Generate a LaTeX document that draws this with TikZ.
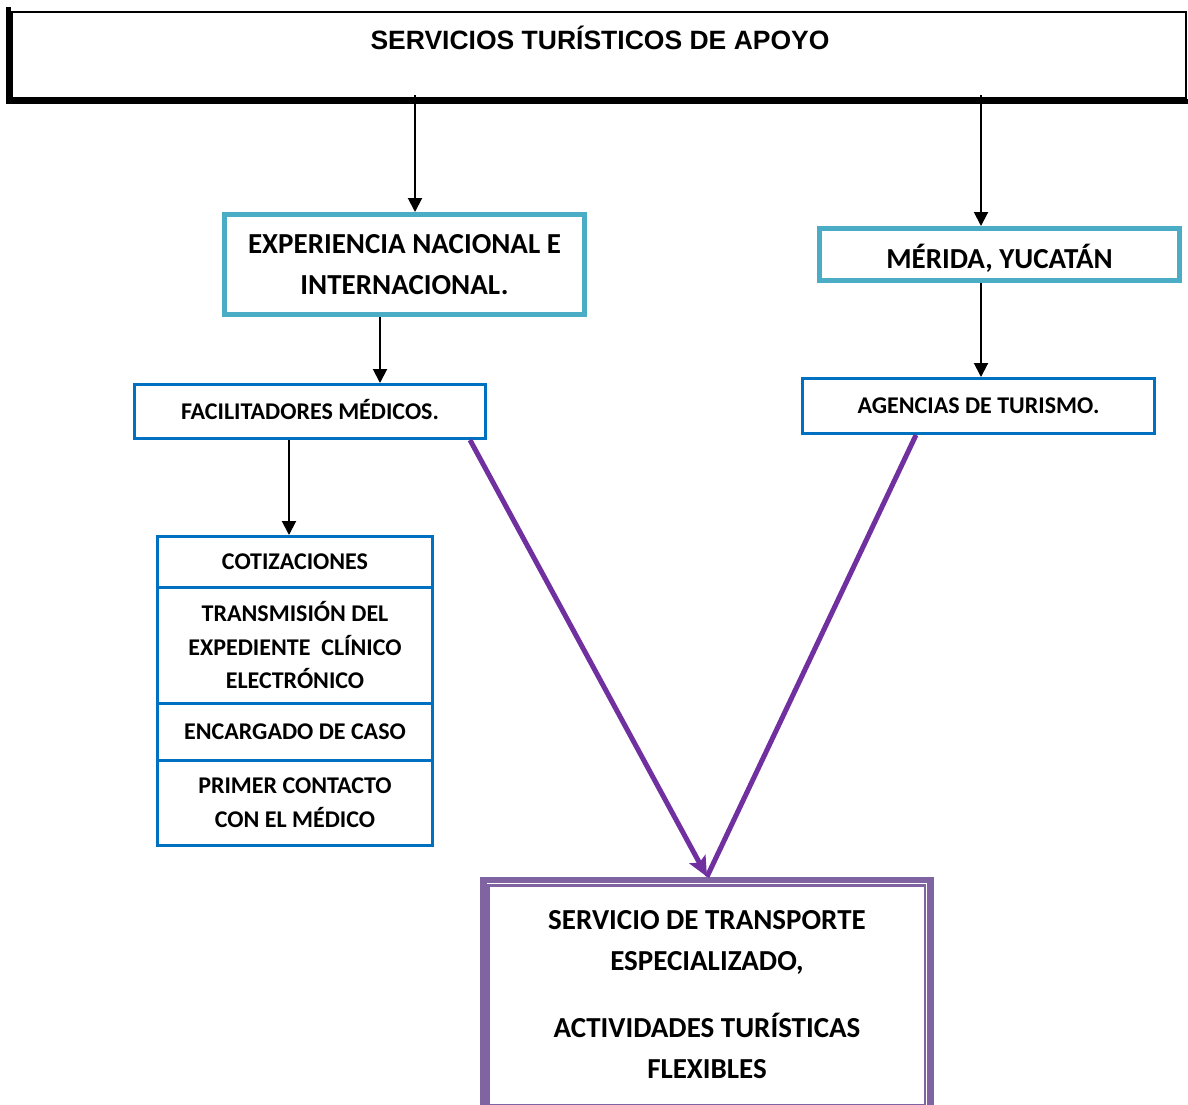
\documentclass[tikz,border=0pt]{standalone}
\usepackage{fontspec}
\setmainfont{Carlito}
\newfontfamily\titlefont{Liberation Sans}
\usetikzlibrary{arrows.meta,calc}

\definecolor{tealline}{HTML}{4BACC6}
\definecolor{blueline}{HTML}{0070C0}
\definecolor{purpleline}{HTML}{7030A0}
\definecolor{purplebox}{HTML}{8064A2}

\begin{document}
\begin{tikzpicture}[x=1pt,y=-1pt,
  bigtext/.style={font=\bfseries\fontsize{29}{41}\selectfont, align=center},
  smalltext/.style={font=\bfseries\fontsize{24}{33.5}\selectfont, align=center},
  oneline/.style={text height=#1, text depth=0pt},
  box/.style={draw, inner sep=0pt, anchor=center},
  tealbox/.style={box, draw=tealline, line width=5pt, bigtext},
  bluebox/.style={box, draw=blueline, line width=3pt, smalltext},
  arr/.style={line width=2pt, -{Triangle[length=14pt,width=14pt]}},
  parr/.style={draw=purpleline, line width=5pt},
  parrtip/.style={parr, -{Stealth[length=20pt,width=18pt,inset=4pt]}},
]
\useasboundingbox (0,0) rectangle (1188,1105);

% header box with its shadow on the left and bottom
\node[box, line width=2.5pt, minimum width=1174pt, minimum height=86pt] (top) at (599,55) {};
\fill ([shift={(-5,-4)}]top.north west) rectangle ([shift={(0,5)}]top.south west);
\fill ([shift={(-5,0)}]top.south west) rectangle ([shift={(4,5)}]top.south east);
\node[font=\titlefont\bfseries\fontsize{26.5}{30}\selectfont, anchor=base] (title) at (600,49.5) {SERVICIOS TURÍSTICOS DE APOYO};

% second level
\node[tealbox, minimum width=360pt, minimum height=100pt] (expbox) at (404.5,264.5)
  {EXPERIENCIA NACIONAL E\\INTERNACIONAL.};
\node[tealbox, oneline=27.5pt, minimum width=360pt, minimum height=52pt] (merbox) at (999.5,254.5)
  {MÉRIDA, YUCATÁN};

% third level
\node[bluebox, oneline=15.5pt, minimum width=351pt, minimum height=54pt] (facbox) at (310,411.5)
  {FACILITADORES MÉDICOS.};
\node[bluebox, oneline=15.5pt, minimum width=352pt, minimum height=55pt] (agebox) at (978.5,406)
  {AGENCIAS DE TURISMO.};

% stacked list of facilitator services
\node[bluebox, oneline=15.5pt, minimum width=275pt, minimum height=50.5pt] (cot) at (295,561.75) {COTIZACIONES};
\node[bluebox, minimum width=275pt, minimum height=116pt] (tra) at (295,645)
  {TRANSMISIÓN DEL\\EXPEDIENTE\ \ CLÍNICO\\ELECTRÓNICO};
\node[bluebox, oneline=15.5pt, minimum width=275pt, minimum height=57pt] (enc) at (295,731.5) {ENCARGADO DE CASO};
\node[bluebox, minimum width=275pt, minimum height=85.5pt] (pri) at (295,802.75)
  {PRIMER CONTACTO\\CON EL MÉDICO};

% final box with double purple border
\node[box, draw=purplebox, line width=6.5pt, minimum width=447pt, minimum height=229pt, bigtext] (finbox) at (707,994.5)
  {SERVICIO DE TRANSPORTE\\ESPECIALIZADO,\\[26pt]ACTIVIDADES TURÍSTICAS\\FLEXIBLES};
\draw[purplebox, line width=2.5pt] ([shift={(8,8.5)}]finbox.north west) rectangle ([shift={(-9,-7.5)}]finbox.south east);

% black connectors
\coordinate (xa) at (415,0);
\coordinate (xb) at (981,0);
\coordinate (xc) at (380,0);
\coordinate (xd) at (289,0);
\draw[arr] ([yshift=4pt]top.south -| xa) -- (expbox.north -| xa);
\draw[arr] ([yshift=4pt]top.south -| xb) -- (merbox.north -| xb);
\draw[arr] (expbox.south -| xc) -- (facbox.north -| xc);
\draw[arr] (merbox.south -| xb) -- (agebox.north -| xb);
\draw[arr] (facbox.south -| xd) -- (cot.north -| xd);

% purple connectors meeting on top of the final box
\coordinate (xe) at (470,0);
\coordinate (xf) at (916,0);
\draw[parr] (agebox.south -| xf) -- (finbox.north);
\draw[parrtip] (facbox.south -| xe) -- (finbox.north);
\end{tikzpicture}
\end{document}
